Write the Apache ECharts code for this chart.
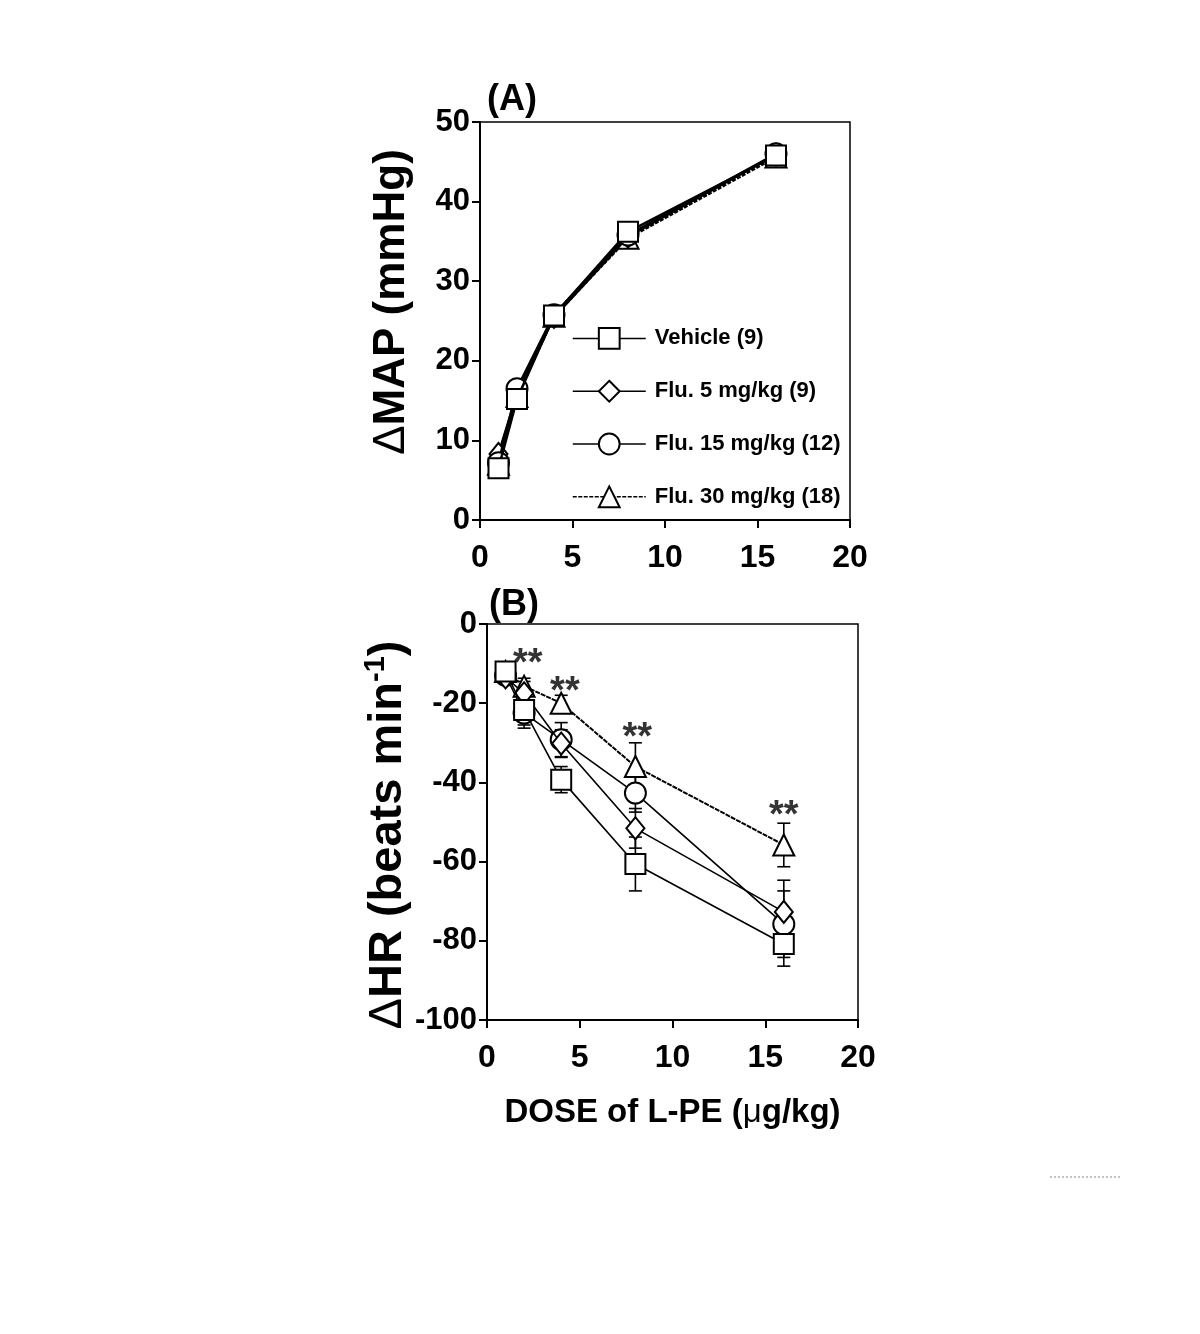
<!DOCTYPE html>
<html>
<head>
<meta charset="utf-8">
<script src="https://cdn.jsdelivr.net/npm/echarts@6/dist/echarts.min.js"></script>
<style>
html,body{margin:0;padding:0;background:#fff;}
#chart{width:1200px;height:1334px;}
</style>
</head>
<body>
<div id="chart"></div>
<script>
// ---------- data ----------
const doses = [1, 2, 4, 8, 16];
const groupNames = ['Vehicle (9)', 'Flu. 5 mg/kg (9)', 'Flu. 15 mg/kg (12)', 'Flu. 30 mg/kg (18)'];

// Panel A: change in MAP (mmHg)
const mapVehicle = [6.5, 15.2, 25.7, 36.2, 45.8];
const mapFlu5    = [8.3, 15.8, 25.5, 35.6, 45.9];
const mapFlu15   = [7.2, 16.5, 25.8, 35.8, 46.0];
const mapFlu30   = [7.0, 15.5, 25.6, 35.4, 45.6];

// Panel B: change in HR (beats/min) and SEM
const hrVehicle    = [-12.0, -21.7, -39.3, -60.6, -80.8];
const hrVehicleErr = [2.0, 4.6, 3.3, 6.8, 5.6];
const hrFlu5       = [-13.5, -17.5, -30.2, -51.6, -72.7];
const hrFlu5Err    = [1.5, 3.0, 3.5, 5.0, 8.0];
const hrFlu15      = [-13.0, -22.5, -29.2, -42.7, -75.8];
const hrFlu15Err   = [1.5, 3.0, 4.3, 4.8, 8.4];
const hrFlu30      = [-12.0, -15.7, -20.0, -36.0, -55.8];
const hrFlu30Err   = [1.5, 2.0, 2.0, 6.0, 5.5];

// significance marks (position of "**" annotations in panel B)
const starDoses = [2.2, 4.2, 8.1, 16.0];
const starHR    = [-8.3, -15.4, -26.8, -46.5];

// axis ranges / ticks
const xMin = 0, xMax = 20, xStep = 5;
const mapMin = 0, mapMax = 50, mapStep = 10;
const hrMin = -100, hrMax = 0, hrStep = 20;

// ---------- chart ----------
const FONT = 'Arial, "Liberation Sans", Helvetica, sans-serif';
const symbols = ['emptyRect', 'emptyDiamond', 'emptyCircle', 'emptyTriangle'];
const symbolSizes = [20, [18, 22], 21, 21];
const lineTypesA = ['solid', 'solid', 'solid', [4, 1.5]];
const lineTypesB = ['solid', 'solid', 'solid', [5, 1]];
const zA = [8, 6, 7, 5];
const zB = [8, 7, 5, 6];

function pair(xs, ys) { return xs.map((x, i) => [x, ys[i]]); }
function triple(xs, ys, es) { return xs.map((x, i) => [x, ys[i], es[i]]); }

const mapData = [mapVehicle, mapFlu5, mapFlu15, mapFlu30];
const hrData = [hrVehicle, hrFlu5, hrFlu15, hrFlu30];
const hrErr = [hrVehicleErr, hrFlu5Err, hrFlu15Err, hrFlu30Err];

const axisCommon = {
  type: 'value',
  axisLine: { show: true, onZero: false, lineStyle: { color: '#000', width: 2 } },
  axisTick: { show: true, inside: false, length: 8, lineStyle: { color: '#000', width: 2 } },
  splitLine: { show: false },
  axisLabel: { color: '#000', fontSize: 31, fontWeight: 'bold', fontFamily: FONT },
};

const series = [];

// panel A lines
mapData.forEach((ys, k) => {
  series.push({
    name: groupNames[k],
    type: 'line',
    xAxisIndex: 0, yAxisIndex: 0,
    z: zA[k],
    data: pair(doses, ys),
    symbol: symbols[k],
    symbolSize: symbolSizes[k],
    showAllSymbol: true,
    lineStyle: { color: '#000', width: 2.6, type: lineTypesA[k] },
    itemStyle: { color: '#000', borderColor: '#000', borderWidth: 1.8 },
    animation: false
  });
});

// error bars for panel B
hrData.forEach((ys, k) => {
  series.push({
    type: 'custom',
    xAxisIndex: 1, yAxisIndex: 1,
    z: 1,
    silent: true,
    data: triple(doses, ys, hrErr[k]),
    renderItem: function (params, api) {
      const x = api.value(0), y = api.value(1), e = api.value(2);
      const top = api.coord([x, y + e]);
      const bot = api.coord([x, y - e]);
      const w = 6.5;
      const st = { stroke: '#000', lineWidth: 1.6 };
      return {
        type: 'group',
        children: [
          { type: 'line', shape: { x1: top[0], y1: top[1], x2: bot[0], y2: bot[1] }, style: st },
          { type: 'line', shape: { x1: top[0] - w, y1: top[1], x2: top[0] + w, y2: top[1] }, style: st },
          { type: 'line', shape: { x1: bot[0] - w, y1: bot[1], x2: bot[0] + w, y2: bot[1] }, style: st },
        ]
      };
    }
  });
});

// panel B lines
hrData.forEach((ys, k) => {
  series.push({
    name: groupNames[k],
    type: 'line',
    xAxisIndex: 1, yAxisIndex: 1,
    z: zB[k],
    data: pair(doses, ys),
    symbol: symbols[k],
    symbolSize: symbolSizes[k],
    lineStyle: { color: '#000', width: k === 3 ? 2 : 1.6, type: lineTypesB[k] },
    itemStyle: { color: '#000', borderColor: '#000', borderWidth: 1.6 },
    animation: false
  });
});

// ** annotations
series.push({
  type: 'scatter',
  xAxisIndex: 1, yAxisIndex: 1,
  z: 10,
  silent: true,
  symbolSize: 1,
  itemStyle: { color: 'rgba(0,0,0,0)' },
  data: pair(starDoses, starHR),
  label: {
    show: true, position: 'inside', formatter: '**',
    fontSize: 38, fontWeight: 'bold', fontFamily: FONT, color: '#000', offset: [0, 8]
  }
});

const option = {
  animation: false,
  backgroundColor: '#fff',
  textStyle: { fontFamily: FONT },
  grid: [
    { left: 480, top: 122, width: 370, height: 398, show: true, borderColor: '#000', borderWidth: 1.5, backgroundColor: 'transparent' },
    { left: 487, top: 624, width: 371, height: 396, show: true, borderColor: '#000', borderWidth: 1.5, backgroundColor: 'transparent' }
  ],
  xAxis: [
    Object.assign({}, axisCommon, { gridIndex: 0, min: xMin, max: xMax, interval: xStep,
      axisLabel: Object.assign({}, axisCommon.axisLabel, { margin: 22, fontSize: 32 }) }),
    Object.assign({}, axisCommon, { gridIndex: 1, min: xMin, max: xMax, interval: xStep,
      axisLabel: Object.assign({}, axisCommon.axisLabel, { margin: 22, fontSize: 32 }),
      name: '{b|DOSE of L-PE (}{m|μ}{b|g/kg)}', nameLocation: 'middle', nameGap: 76,
      nameTextStyle: { rich: {
        b: { fontSize: 33, fontWeight: 'bold', color: '#000', fontFamily: FONT },
        m: { fontSize: 33, fontWeight: 'normal', color: '#000', fontFamily: FONT }
      } } })
  ],
  yAxis: [
    Object.assign({}, axisCommon, { gridIndex: 0, min: mapMin, max: mapMax, interval: mapStep,
      axisLabel: Object.assign({}, axisCommon.axisLabel, { margin: 10 }),
      name: '{d|Δ}{b|MAP (mmHg)}', nameLocation: 'middle', nameGap: 66, nameRotate: 90,
      nameTextStyle: { padding: [0, 0, 0, 38], rich: {
        d: { fontSize: 44, fontWeight: 'normal', color: '#000', fontFamily: FONT },
        b: { fontSize: 44, fontWeight: 'bold', color: '#000', fontFamily: FONT }
      } } }),
    Object.assign({}, axisCommon, { gridIndex: 1, min: hrMin, max: hrMax, interval: hrStep,
      axisLabel: Object.assign({}, axisCommon.axisLabel, { margin: 10 }),
      name: '{d|Δ}{b|HR (beats min}{s|-1}{b|)}', nameLocation: 'middle', nameGap: 72, nameRotate: 90,
      nameTextStyle: { padding: [0, 26, 0, 0], rich: {
        d: { fontSize: 47, fontWeight: 'normal', color: '#000', fontFamily: FONT },
        b: { fontSize: 47, fontWeight: 'bold', color: '#000', fontFamily: FONT },
        s: { fontSize: 29, fontWeight: 'bold', color: '#000', fontFamily: FONT, padding: [0, 0, 24, 0] }
      } } })
  ],
  legend: {
    show: true,
    orient: 'vertical',
    left: 567, top: 322,
    itemWidth: 73, itemHeight: 26, itemGap: 30,
    data: groupNames,
    lineStyle: { width: 1.5 },
    textStyle: { fontSize: 22, fontWeight: 'bold', color: '#000', fontFamily: FONT, padding: [0, 0, 0, 4] },
    selectedMode: false
  },
  graphic: [
    { type: 'text', left: 487, top: 82, style: { text: '(A)', fill: '#000', font: 'bold 36px ' + FONT } },
    { type: 'text', left: 489, top: 587, style: { text: '(B)', fill: '#000', font: 'bold 36px ' + FONT } },
    { type: 'line', shape: { x1: 1050, y1: 1177, x2: 1122, y2: 1177 }, style: { stroke: '#888', lineWidth: 1, lineDash: [2, 2] } }
  ],
  series: series
};

const chart = echarts.init(document.getElementById('chart'), null, { renderer: 'canvas' });
chart.setOption(option);
</script>
</body>
</html>
